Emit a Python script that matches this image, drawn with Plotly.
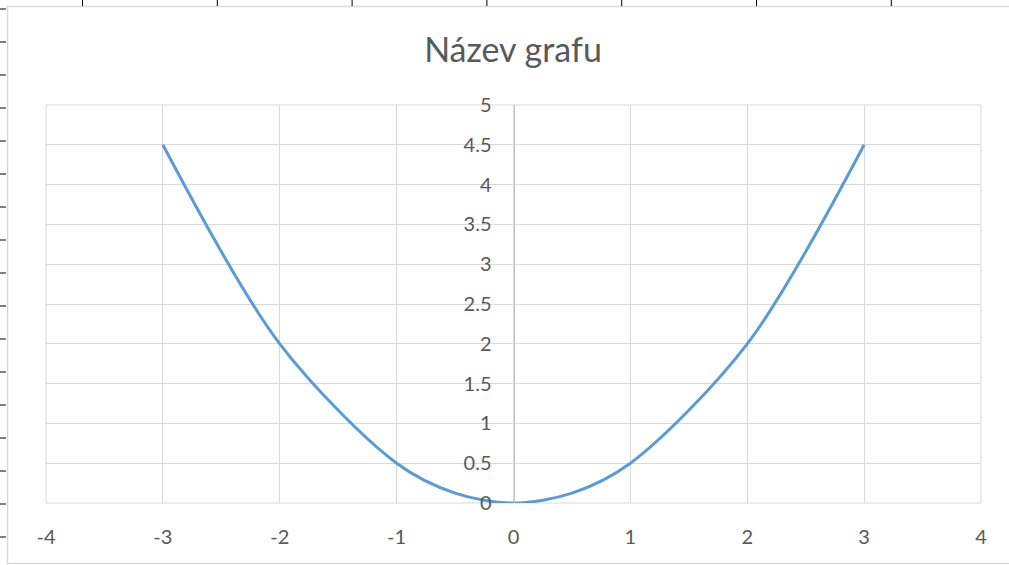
import plotly.graph_objects as go

# data
x_vals = [-3, -2, -1, -0.5, 0, 0.5, 1, 2, 3]
y_vals = [4.5, 2, 0.5, 0.125, 0, 0.125, 0.5, 2, 4.5]
x_ticks = [-4, -3, -2, -1, 0, 1, 2, 3, 4]
y_ticks = [0, 0.5, 1, 1.5, 2, 2.5, 3, 3.5, 4, 4.5, 5]
title_text = "Název grafu"

W, H = 1009, 565
L, R, T, B = 46, 981, 105, 503

def px(xp):
    return (xp - L) / (R - L)

def py(yp):
    return (B - yp) / (B - T)

fig = go.Figure()
fig.add_trace(go.Scatter(
    x=x_vals, y=y_vals, mode="lines",
    line=dict(color="#5B9BD5", width=3, shape="spline", smoothing=0.9),
    hoverinfo="skip", showlegend=False,
))

font_fam = "Lato, Calibri, sans-serif"
fig.update_layout(
    width=W, height=H,
    margin=dict(l=L, r=W - R, t=T, b=H - B),
    paper_bgcolor="white", plot_bgcolor="white",
    title=dict(text=title_text, x=513 / W, xref="container", xanchor="center",
               y=1 - 50 / H, yref="container", yanchor="middle",
               font=dict(family=font_fam, size=34, color="#595959")),
    font=dict(family=font_fam, color="#595959"),
    xaxis=dict(range=[-4, 4], tickvals=x_ticks, ticktext=[str(v) for v in x_ticks],
               showgrid=True, gridcolor="#d9d9d9", gridwidth=1,
               zeroline=False, showline=False, ticks="",
               tickfont=dict(size=20, color="#595959"), ticklabelstandoff=20,
               domain=[0, 1]),
    yaxis=dict(range=[0, 5], tickvals=y_ticks, ticktext=[f"{v:g}" for v in y_ticks],
               showgrid=True, gridcolor="#d9d9d9", gridwidth=1,
               zeroline=False, showline=True, linecolor="#c4c4c4", linewidth=1,
               anchor="free", position=0.5, ticks="",
               tickfont=dict(size=20, color="#595959"), ticklabelstandoff=18),
)

shapes = []
# plot area border
shapes.append(dict(type="rect", xref="paper", yref="paper", x0=0, x1=1, y0=0, y1=1,
                   line=dict(color="#d9d9d9", width=1), layer="below"))
# chart outer border
shapes.append(dict(type="rect", xref="paper", yref="paper",
                   x0=px(7.5), x1=px(1012), y0=py(563.5), y1=py(6.5),
                   line=dict(color="#d9d9d9", width=1.5), layer="below"))
# spreadsheet row/column marks
for k in range(17):
    yy = 9 + 33 * k
    shapes.append(dict(type="line", xref="paper", yref="paper",
                       x0=px(0), x1=px(6), y0=py(yy), y1=py(yy),
                       line=dict(color="black", width=1)))
for k in range(7):
    xx = 82.5 + 134.8 * k
    shapes.append(dict(type="line", xref="paper", yref="paper",
                       x0=px(xx), x1=px(xx), y0=py(0), y1=py(6),
                       line=dict(color="black", width=1)))
fig.update_layout(shapes=shapes)

fig.write_html("out.html", config={"displayModeBar": False},
               post_script="document.body.style.margin='0';")
